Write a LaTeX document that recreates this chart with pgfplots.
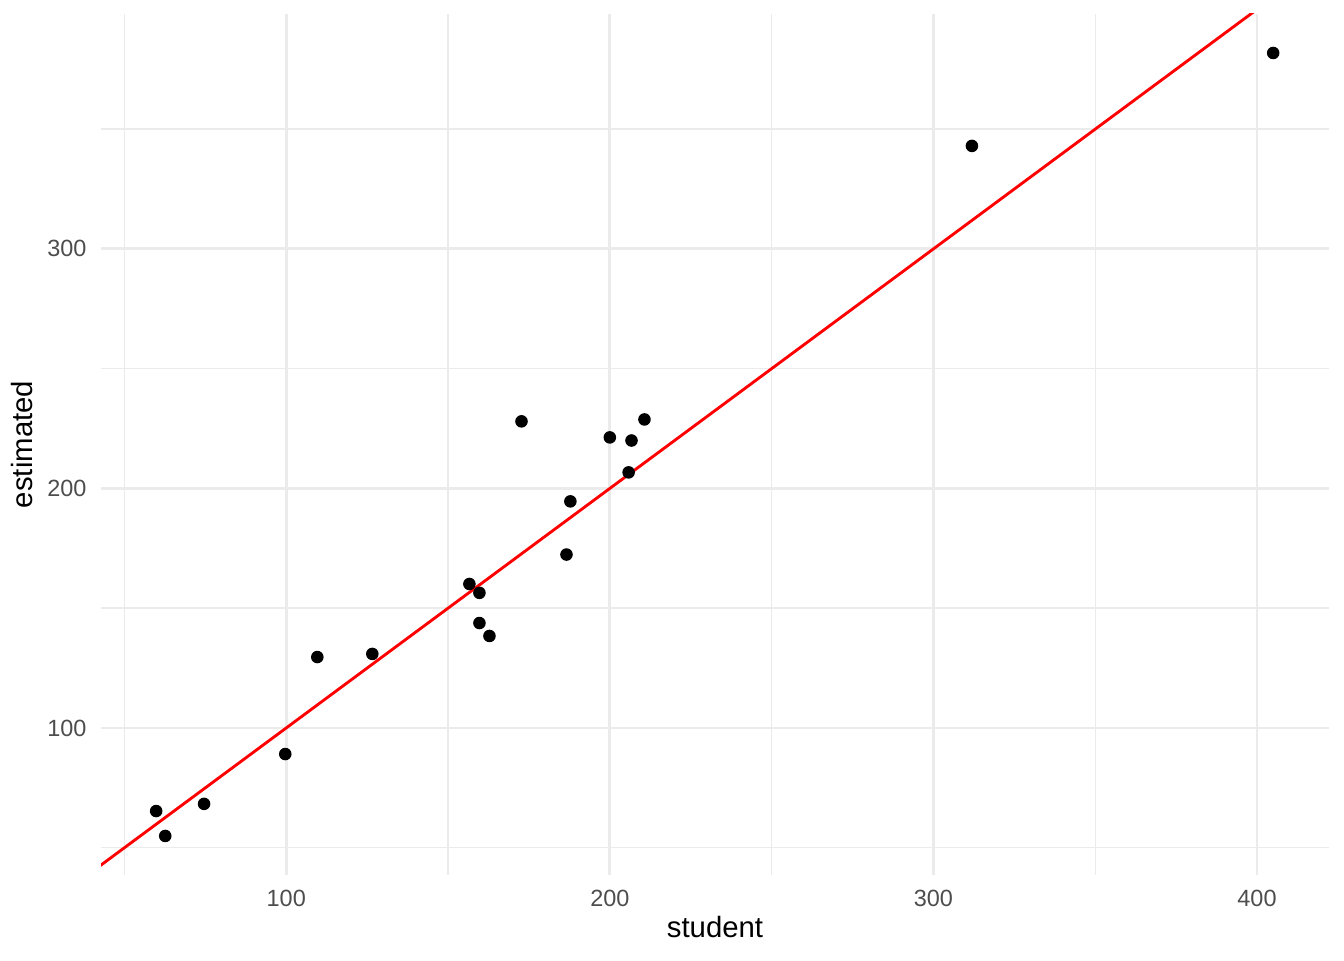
\documentclass[border=0pt]{standalone}
\usepackage{fontspec}
\setmainfont{Liberation Sans}
\usepackage{pgfplots}
\pgfplotsset{compat=1.18}
\definecolor{gridgrey}{HTML}{EBEBEB}
\definecolor{ticktext}{HTML}{4D4D4D}
\begin{document}
\begin{tikzpicture}
% page = 1344x960 px at 0.375pt per px
\useasboundingbox (-37.875pt,-31.875pt) rectangle (466.125pt,328.125pt);
\begin{axis}[
    scale only axis,
    width=460.5pt, height=322.9pt,
    xmin=42.75, xmax=422.25,
    ymin=38.6, ymax=398.1,
    xtick={100,200,300,400},
    ytick={100,200,300},
    minor xtick={50,150,250,350},
    minor ytick={50,150,250,350},
    grid=both,
    major grid style={gridgrey, line width=1.07pt},
    minor grid style={gridgrey, line width=0.53pt},
    axis line style={draw=none},
    major tick length=0pt, minor tick length=0pt,
    /pgf/number format/assume math mode=true,
    tick label style={font=\fontsize{8.8}{10}\selectfont, text=ticktext, inner sep=0pt},
    xticklabel style={anchor=north, yshift=-5.6pt},
    yticklabel style={anchor=east, xshift=-5.25pt},
    xlabel={student}, ylabel={estimated},
    every axis x label/.style={at={([yshift=-23.6pt]axis description cs:0.5,0)}, anchor=base,
        font=\fontsize{11}{13}\selectfont, text=black, inner sep=0pt},
    every axis y label/.style={at={([xshift=-25.5pt]axis description cs:0,0.5)}, anchor=base, rotate=90,
        font=\fontsize{11}{13}\selectfont, text=black, inner sep=0pt},
]
\addplot[only marks, mark=*, mark size=2.15pt, mark options={fill=black, draw=black}] coordinates {
    (59.8,65.3)
    (62.6,54.9)
    (74.6,68.3)
    (99.7,89.1)
    (109.6,129.6)
    (126.6,130.9)
    (156.6,160.1)
    (159.7,156.4)
    (159.7,143.8)
    (162.8,138.4)
    (172.7,228.0)
    (186.6,172.4)
    (187.8,194.6)
    (200.0,221.3)
    (206.7,220.0)
    (205.8,206.7)
    (210.7,228.8)
    (311.9,343.0)
    (405.0,381.8)
};
\addplot[red, line width=1.07pt] coordinates {(30,30) (430,430)};
\end{axis}
\end{tikzpicture}
\end{document}
